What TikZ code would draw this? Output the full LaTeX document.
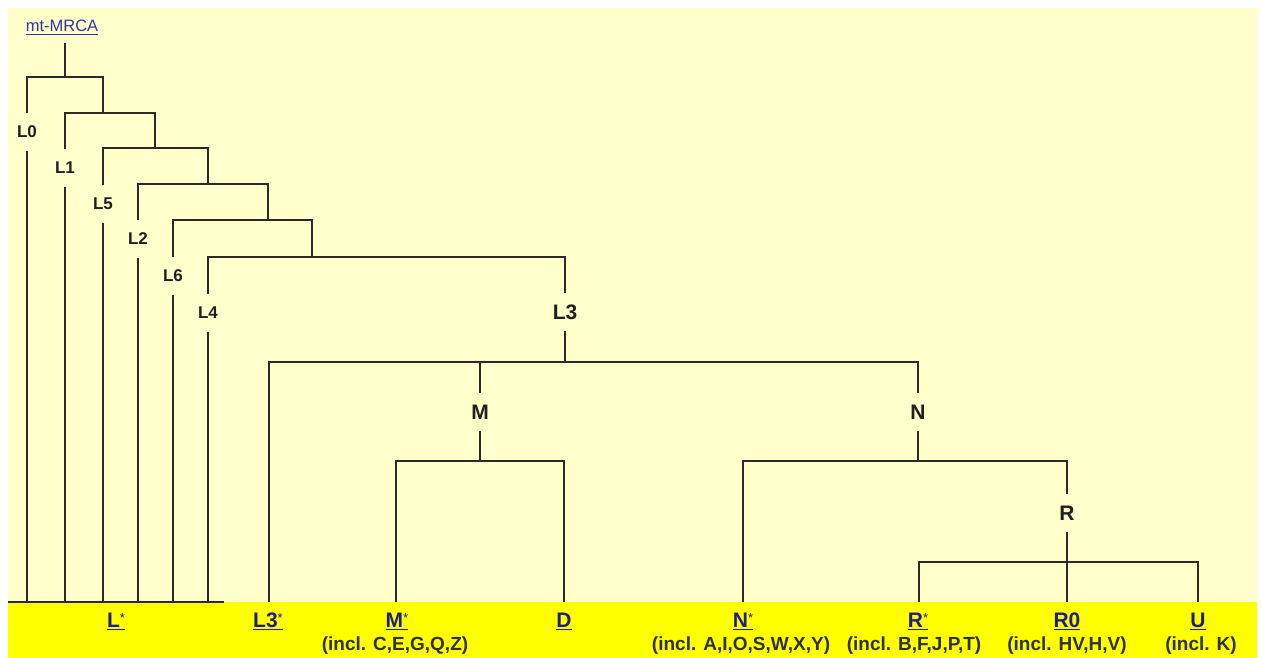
\documentclass[tikz,border=0pt]{standalone}
\usepackage{fontspec}
\setmainfont{Liberation Sans}

\definecolor{panel}{HTML}{FFFFCC}
\definecolor{band}{HTML}{FFFF00}
\definecolor{linkblue}{HTML}{1E1E8C}
\definecolor{mrcablue}{HTML}{3434A4}
\definecolor{edgegrey}{HTML}{2A2A2A}
\definecolor{notegrey}{HTML}{303030}

% underlined link text: rule of given thickness just under the baseline
\newcommand\linkul[2][1.4pt]{\sbox0{#2}\rlap{\usebox0}\rule[-3pt]{\wd0}{#1}}
% small raised asterisk after a haplogroup name
\newcommand\hgstar{\raisebox{5pt}{\mdseries\fontsize{13}{13}\selectfont *}}

\tikzset{
  edge/.style={draw=edgegrey, line width=1.4pt},
  smalllab/.style={font=\bfseries\fontsize{17}{17}\selectfont, text=black!88,
                   inner sep=0pt, minimum height=37pt},
  biglab/.style={font=\bfseries\fontsize{21}{21}\selectfont, text=black!88,
                 inner sep=0pt, minimum height=37pt},
  leaf/.style={font=\bfseries\fontsize{21}{22}\selectfont, text=linkblue,
               anchor=base, inner sep=0pt},
  incl/.style={font=\bfseries\fontsize{19}{20}\selectfont, text=notegrey,
               anchor=base, inner sep=0pt},
}

\begin{document}
\begin{tikzpicture}[x=1pt, y=-1pt]
  % canvas and panels
  \useasboundingbox (0,0) rectangle (1262,658);
  \fill[white] (0,0) rectangle (1262,658);
  \fill[panel] (8,8) rectangle (1257,658);
  \fill[band] (8,602) rectangle (1257,658);

  % root
  \node[anchor=base, inner sep=0pt, text=mrcablue,
        font=\mdseries\fontsize{16.5}{18}\selectfont]
        (mrca) at (62,32) {\linkul[1pt]{mt-MRCA}};
  \coordinate (stem) at (65,43);

  % fork points of the tree
  \coordinate (r0) at (65,77);   \coordinate (r0a) at (27,77);   \coordinate (r0b) at (103,77);
  \coordinate (r1) at (103,113); \coordinate (r1a) at (65,113);  \coordinate (r1b) at (155,113);
  \coordinate (r2) at (155,148); \coordinate (r2a) at (103,148); \coordinate (r2b) at (208,148);
  \coordinate (r3) at (208,184); \coordinate (r3a) at (138,184); \coordinate (r3b) at (268,184);
  \coordinate (r4) at (268,220); \coordinate (r4a) at (173,220); \coordinate (r4b) at (312,220);
  \coordinate (r5) at (312,257); \coordinate (r5a) at (208,257); \coordinate (r5b) at (565,257);
  \coordinate (r6) at (565,362); \coordinate (r6a) at (269,362); \coordinate (r6b) at (918,362);
  \coordinate (r6m) at (480,362);
  \coordinate (m7) at (480,461); \coordinate (m7a) at (396,461); \coordinate (m7b) at (564,461);
  \coordinate (n8) at (918,461); \coordinate (n8a) at (743,461); \coordinate (n8b) at (1067,461);
  \coordinate (r9) at (1067,562); \coordinate (r9a) at (919,562); \coordinate (r9b) at (1198,562);

  % ends of the branches on the band
  \coordinate (eL0) at (27,602);  \coordinate (eL1) at (65,602);  \coordinate (eL5) at (103,602);
  \coordinate (eL2) at (138,602); \coordinate (eL6) at (173,602); \coordinate (eL4) at (208,602);
  \coordinate (eL3s) at (269,602); \coordinate (eMs) at (396,602); \coordinate (eD) at (564,602);
  \coordinate (eNs) at (743,602);  \coordinate (eRs) at (919,602); \coordinate (eR0) at (1067,602);
  \coordinate (eU) at (1198,602);
  \coordinate (base0) at (8,602); \coordinate (base1) at (224,602);

  % branch labels
  \node[smalllab] (L0) at (27,132) {L0};
  \node[smalllab] (L1) at (65,168) {L1};
  \node[smalllab] (L5) at (103,204) {L5};
  \node[smalllab] (L2) at (138,239) {L2};
  \node[smalllab] (L6) at (173,276) {L6};
  \node[smalllab] (L4) at (208,313) {L4};
  \node[biglab] (L3) at (565,312) {L3};
  \node[biglab] (M) at (480,412) {M};
  \node[biglab] (N) at (918,412) {N};
  \node[biglab] (R) at (1067,513) {R};

  % connectors
  \draw[edge] (stem) -- (r0);
  \draw[edge] (L0) -- (r0a) -- (r0b) -- (r1);
  \draw[edge] (L0) -- (eL0);
  \draw[edge] (L1) -- (r1a) -- (r1b) -- (r2);
  \draw[edge] (L1) -- (eL1);
  \draw[edge] (L5) -- (r2a) -- (r2b) -- (r3);
  \draw[edge] (L5) -- (eL5);
  \draw[edge] (L2) -- (r3a) -- (r3b) -- (r4);
  \draw[edge] (L2) -- (eL2);
  \draw[edge] (L6) -- (r4a) -- (r4b) -- (r5);
  \draw[edge] (L6) -- (eL6);
  \draw[edge] (L4) -- (r5a) -- (r5b) -- (L3);
  \draw[edge] (L4) -- (eL4);
  \draw[edge] (L3) -- (r6);
  \draw[edge] (eL3s) -- (r6a) -- (r6b) -- (N);
  \draw[edge] (r6m) -- (M);
  \draw[edge] (M) -- (m7);
  \draw[edge] (eMs) -- (m7a) -- (m7b) -- (eD);
  \draw[edge] (N) -- (n8);
  \draw[edge] (eNs) -- (n8a) -- (n8b) -- (R);
  \draw[edge] (R) -- (eR0);
  \draw[edge] (eRs) -- (r9a) -- (r9b) -- (eU);
  \draw[edge] (base0) -- (base1);

  % leaf names
  \node[leaf] (lLs)  at (116,627)  {\linkul{L\hgstar}};
  \node[leaf] (lL3s) at (268,627)  {\linkul{L3\hgstar}};
  \node[leaf] (lMs)  at (397,627)  {\linkul{M\hgstar}};
  \node[leaf] (lD)   at (564,627)  {\linkul{D}};
  \node[leaf] (lNs)  at (743,627)  {\linkul{N\hgstar}};
  \node[leaf] (lRs)  at (918,627)  {\linkul{R\hgstar}};
  \node[leaf] (lR0)  at (1067,627) {\linkul{R0}};
  \node[leaf] (lU)   at (1198,627) {\linkul{U}};

  % sub-haplogroup notes
  \node[incl] (iM) at (395,650)  {(incl. C,E,G,Q,Z)};
  \node[incl] (iN) at (741,650)  {(incl. A,I,O,S,W,X,Y)};
  \node[incl] (iR) at (914,650)  {(incl. B,F,J,P,T)};
  \node[incl] (iR0) at (1067,650) {(incl. HV,H,V)};
  \node[incl] (iU) at (1201,650) {(incl. K)};
\end{tikzpicture}
\end{document}
